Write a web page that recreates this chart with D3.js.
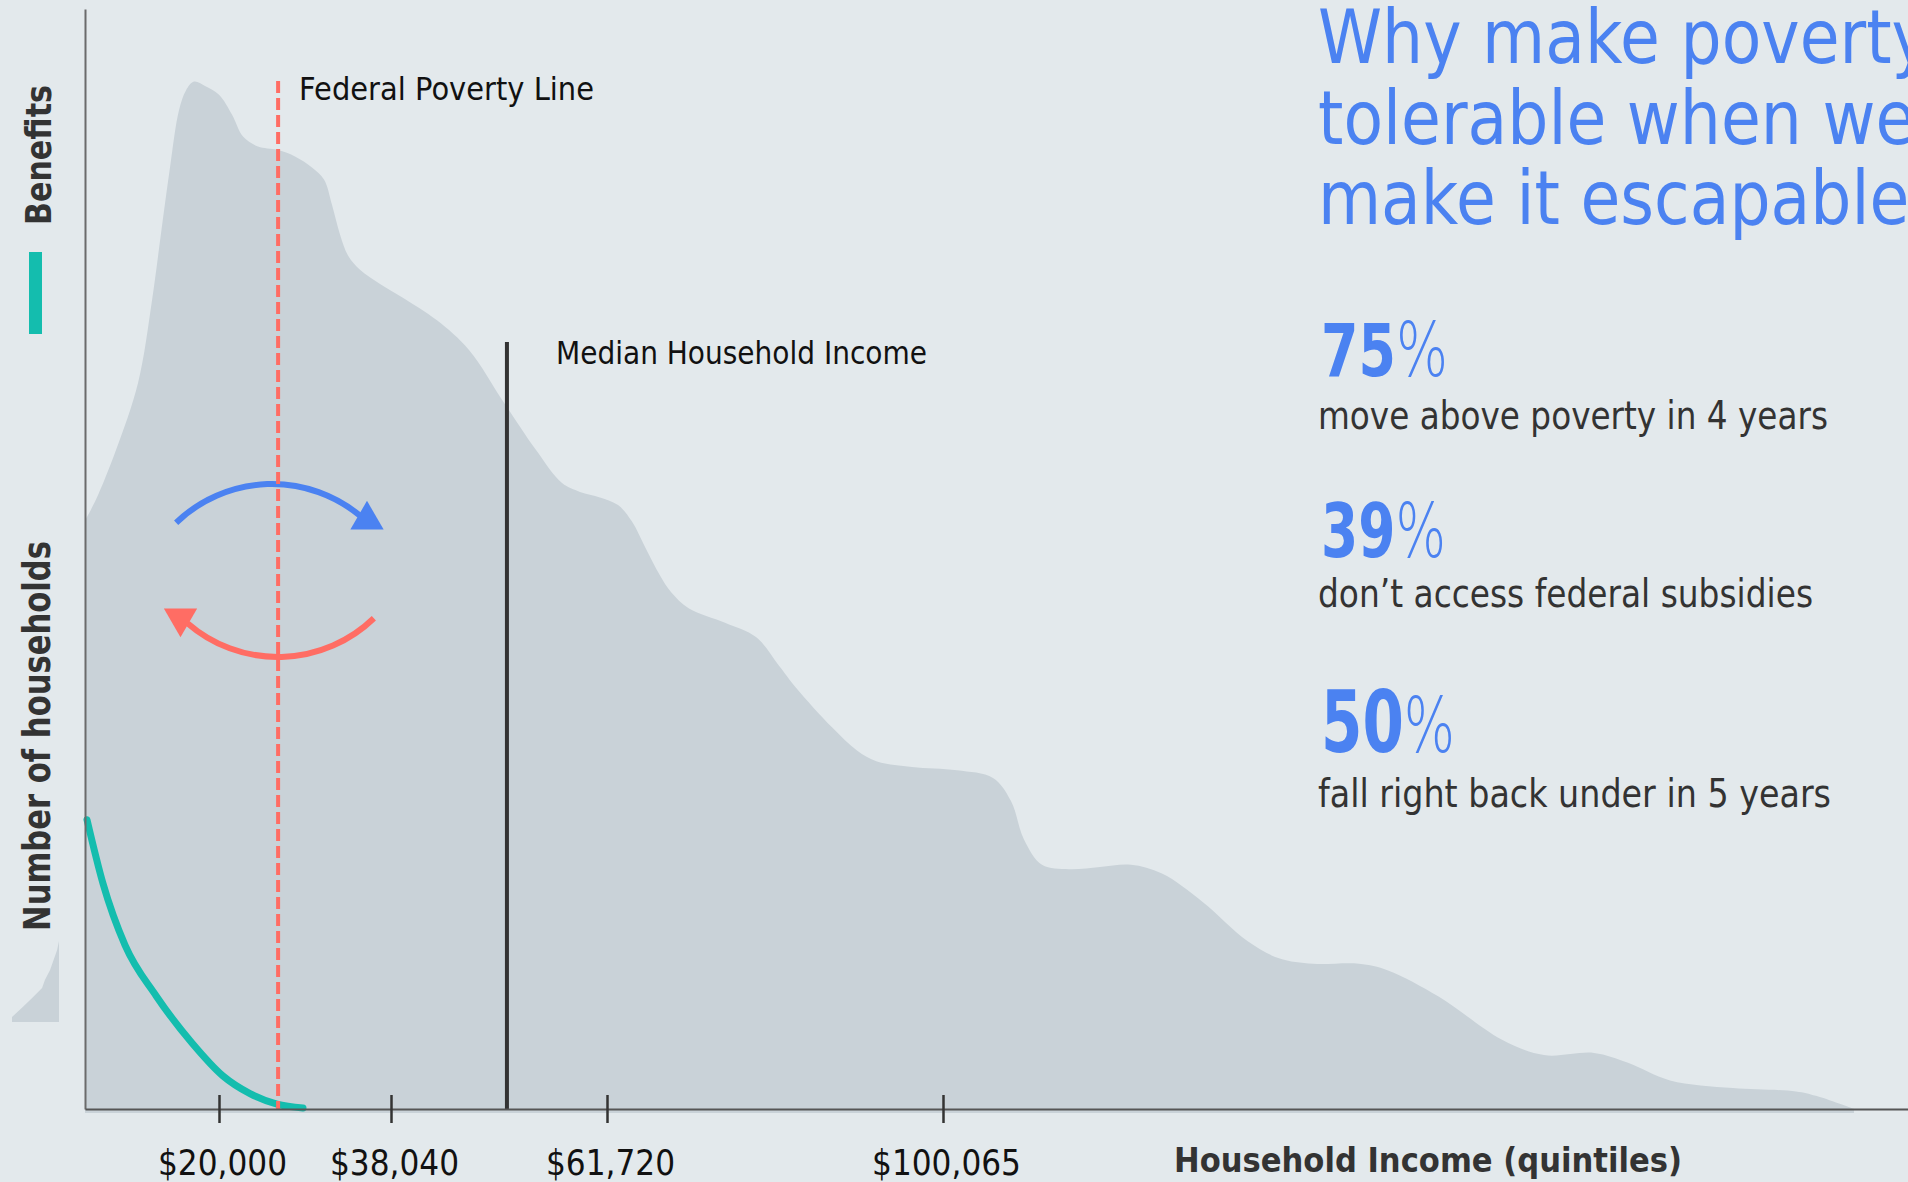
<!DOCTYPE html>
<html>
<head>
<meta charset="utf-8">
<script src="https://cdn.jsdelivr.net/npm/d3@7"></script>
<style>
  html, body { margin: 0; padding: 0; background: #e3e9ec; overflow: hidden; }
  svg { display: block; font-family: "DejaVu Sans", sans-serif; }
</style>
</head>
<body>
<svg id="chart" width="1908" height="1182"></svg>
<script>
// Household income distribution: income ($ thousands) and relative number of households
const incomeK = [6.0, 7.15, 9.24, 11.54, 13.0, 13.94, 14.88, 15.82, 16.55, 17.39, 18.54, 20.0,
  21.36, 22.52, 24.09, 26.08, 27.97, 29.75, 31.01, 31.85, 32.69, 33.53, 34.79, 36.89, 39.25,
  43.08, 46.59, 50.43, 53.94, 56.79, 58.76, 60.95, 62.98, 64.57, 66.06, 67.77, 69.02, 71.08,
  75.19, 78.72, 81.35, 83.29, 87.40, 90.25, 92.53, 96.53, 101.66, 105.76, 107.81, 109.29,
  111.34, 114.42, 117.95, 121.48, 125.01, 129.68, 134.70, 138.34, 142.22, 147.46, 150.76,
  156.57, 163.75, 168.53, 174.23, 178.10, 182.89, 190.06, 197.24, 199.52, 203.85];
const households = [53.5, 55.4, 59.9, 66.0, 73.5, 79.6, 85.6, 90.8, 92.6, 93.4, 93.0, 92.2,
  90.4, 88.4, 87.5, 87.2, 86.6, 85.6, 84.5, 82.2, 79.5, 77.6, 76.3, 75.0, 73.8,
  71.7, 69.0, 64.2, 59.9, 56.9, 56.1, 55.6, 54.9, 53.4, 51.1, 48.5, 47.0, 45.5,
  44.2, 42.9, 40.3, 38.3, 34.7, 32.6, 31.6, 31.1, 30.8, 30.1, 28.0, 24.5,
  22.2, 21.8, 22.0, 22.2, 21.4, 18.8, 15.3, 13.7, 13.2, 13.2, 12.6,
  10.2, 6.3, 4.9, 5.1, 4.2, 2.6, 1.9, 1.6, 1.2, 0];

// Benefits phase out as income rises
const benefitIncomeK = [6.21, 7.88, 10.18, 13.42, 17.18, 20.42, 23.25, 26.08, 28.81];
const benefitLevel = [26.3, 20.5, 14.9, 10.3, 6.0, 3.0, 1.4, 0.45, 0.1];

// Quintile boundaries on the income axis
const quintileBreaks = [20000, 38040, 61720, 100065];
const quintileLabels = ["$20,000", "$38,040", "$61,720", "$100,065"];
const incomeExtent = [6000, 210000];

const povertyLine = 26200;
const medianIncome = 50750;

// Small household-count legend swatch (relative position, relative height)
const swatchPos = [0, 0.23, 0.45, 0.64, 0.70, 0.81, 0.87, 0.96, 1];
const swatchHeight = [5, 15, 25, 34, 42, 52, 60, 72, 81];

const titleLines = ["Why make poverty", "tolerable when we", "make it escapable"];
const statValues = ["75", "39", "50"];
const statCaptions = ["move above poverty in 4 years", "don\u2019t access federal subsidies",
  "fall right back under in 5 years"];

// ---------------------------------------------------------------
const svg = d3.select("#chart");
const BLUE = "#4b82f1", RED = "#ff6d64", TEAL = "#14bdae", AREA = "#c9d2d8", INK = "#333";

const x = d3.scaleLinear()
  .domain([incomeExtent[0], ...quintileBreaks, incomeExtent[1]])
  .range([85, 219, 391, 607, 943, 1908]);
const y = d3.scaleLinear().domain([0, 100]).range([1109, 9]);

const dist = incomeK.map((k, i) => ({ inc: k * 1000, v: households[i] }));
const benefits = benefitIncomeK.map((k, i) => ({ inc: k * 1000, v: benefitLevel[i] }));

// distribution of households
svg.append("path")
  .datum(dist)
  .attr("fill", AREA)
  .attr("d", d3.area()
    .x(d => x(d.inc))
    .y0(y(0) + 4)
    .y1(d => y(d.v))
    .curve(d3.curveCatmullRom.alpha(0.5)));

// legend swatch for the household distribution
const sx = d3.scaleLinear().domain([0, 1]).range([12, 59]);
const sy = d3.scaleLinear().domain([0, 81]).range([1022, 941]);
svg.append("path")
  .datum(swatchPos.map((p, i) => ({ p, h: swatchHeight[i] })))
  .attr("fill", AREA)
  .attr("d", d3.area().x(d => sx(d.p)).y0(sy(0)).y1(d => sy(d.h)).curve(d3.curveLinear));

// movement across the poverty line: up and out (blue), back under (red)
function arcPath(cx, cy, r, a0, a1) {
  const p = d3.path();
  p.arc(cx, cy, r, a0 * Math.PI / 180, a1 * Math.PI / 180);
  return p.toString();
}
svg.append("path")
  .attr("d", arcPath(272, 622, 138, -134, -50))
  .attr("fill", "none").attr("stroke", BLUE).attr("stroke-width", 6);
svg.append("path")
  .attr("d", d3.symbol(d3.symbolTriangle, 480)())
  .attr("transform", "translate(367,520)")
  .attr("fill", BLUE);
svg.append("path")
  .attr("d", arcPath(278, 519, 138, 46, 131))
  .attr("fill", "none").attr("stroke", RED).attr("stroke-width", 6);
svg.append("path")
  .attr("d", d3.symbol(d3.symbolTriangle, 480)())
  .attr("transform", "translate(180.5,618) rotate(180)")
  .attr("fill", RED);

// benefits curve
svg.append("path")
  .datum(benefits)
  .attr("fill", "none")
  .attr("stroke", TEAL)
  .attr("stroke-width", 7)
  .attr("stroke-linecap", "round")
  .attr("d", d3.line().x(d => x(d.inc)).y(d => y(d.v)).curve(d3.curveMonotoneX));

// federal poverty line
svg.append("line")
  .attr("x1", x(povertyLine)).attr("x2", x(povertyLine))
  .attr("y1", 81).attr("y2", y(0))
  .attr("stroke", RED).attr("stroke-width", 4)
  .attr("stroke-dasharray", "12,5");

// median household income
svg.append("line")
  .attr("x1", x(medianIncome)).attr("x2", x(medianIncome))
  .attr("y1", 342).attr("y2", y(0))
  .attr("stroke", INK).attr("stroke-width", 4);

// axes
const yAxis = svg.append("g")
  .attr("transform", `translate(${x.range()[0]},0)`)
  .call(d3.axisLeft(y).tickValues([]).tickSizeOuter(0));
yAxis.select(".domain").attr("stroke", "#6b6b6b").attr("stroke-width", 2);

const xAxis = svg.append("g")
  .attr("transform", `translate(0,${y(0)})`)
  .call(d3.axisBottom(x).tickValues(quintileBreaks)
    .tickFormat((d, i) => quintileLabels[i]).tickSizeOuter(0));
xAxis.select(".domain").attr("stroke", "#555").attr("stroke-width", 2);
xAxis.selectAll(".tick line")
  .attr("y1", -14).attr("y2", 14)
  .attr("stroke", INK).attr("stroke-width", 2.5);
xAxis.selectAll(".tick text")
  .attr("y", 66).attr("dy", null).attr("dx", 3)
  .attr("font-family", "DejaVu Sans")
  .attr("font-size", 36).attr("fill", "#111")
  .each(function () {
    const w = this.getComputedTextLength();
    d3.select(this).attr("textLength", w * 0.867).attr("lengthAdjust", "spacingAndGlyphs");
  });

// text helper: fixed rendered width
function label(sel, txt, o) {
  const t = sel.append("text")
    .text(txt)
    .attr("font-size", o.size)
    .attr("font-weight", o.weight || "normal")
    .attr("fill", o.fill || INK)
    .attr("text-anchor", o.anchor || "start");
  if (o.rotate) {
    t.attr("transform", `translate(${o.x},${o.y}) rotate(${o.rotate})`);
  } else {
    t.attr("x", o.x).attr("y", o.y);
  }
  if (o.width) t.attr("textLength", o.width).attr("lengthAdjust", "spacingAndGlyphs");
  return t;
}

label(svg, "Federal Poverty Line", { x: 299, y: 100, size: 31.5, width: 295, fill: "#111" });
label(svg, "Median Household Income", { x: 556, y: 364, size: 31.5, width: 371, fill: "#111" });

label(svg, "Household Income (quintiles)", { x: 1174, y: 1172, size: 34, weight: "bold", width: 508 });
label(svg, "Number of households", { x: 49.5, y: 931, rotate: -90, size: 37, weight: "bold", width: 390 });
label(svg, "Benefits", { x: 51, y: 225, rotate: -90, size: 35.7, weight: "bold", width: 140 });
svg.append("rect").attr("x", 29).attr("y", 252).attr("width", 13).attr("height", 82).attr("fill", TEAL);

// headline
titleLines.forEach((line, i) => {
  svg.append("text")
    .text(line)
    .attr("font-size", 75)
    .attr("fill", BLUE)
    .attr("transform", `translate(1318,${[63, 144, 224][i]}) scale(0.864,1)`);
});

// key figures: bold number with a light percent sign, caption below
const statLayout = [
  { numY: 376, numSize: 72.7, pctSize: 74, numW: 127, capY: 429, capW: 510 },
  { numY: 557, numSize: 75.4, pctSize: 75, numW: 125, capY: 607, capW: 495 },
  { numY: 752, numSize: 85, pctSize: 77, numW: 134, capY: 807, capW: 513 }
];
statValues.forEach((v, i) => {
  const L = statLayout[i];
  const t = svg.append("text")
    .attr("x", 1321).attr("y", L.numY)
    .attr("fill", BLUE)
    .attr("textLength", L.numW).attr("lengthAdjust", "spacingAndGlyphs");
  t.append("tspan").attr("font-size", L.numSize).attr("font-weight", "bold").text(v);
  t.append("tspan").attr("font-size", L.pctSize).attr("font-weight", 300).text("%");
  label(svg, statCaptions[i], { x: 1318, y: L.capY, size: 38.4, fill: INK, width: L.capW });
});
</script>
</body>
</html>
